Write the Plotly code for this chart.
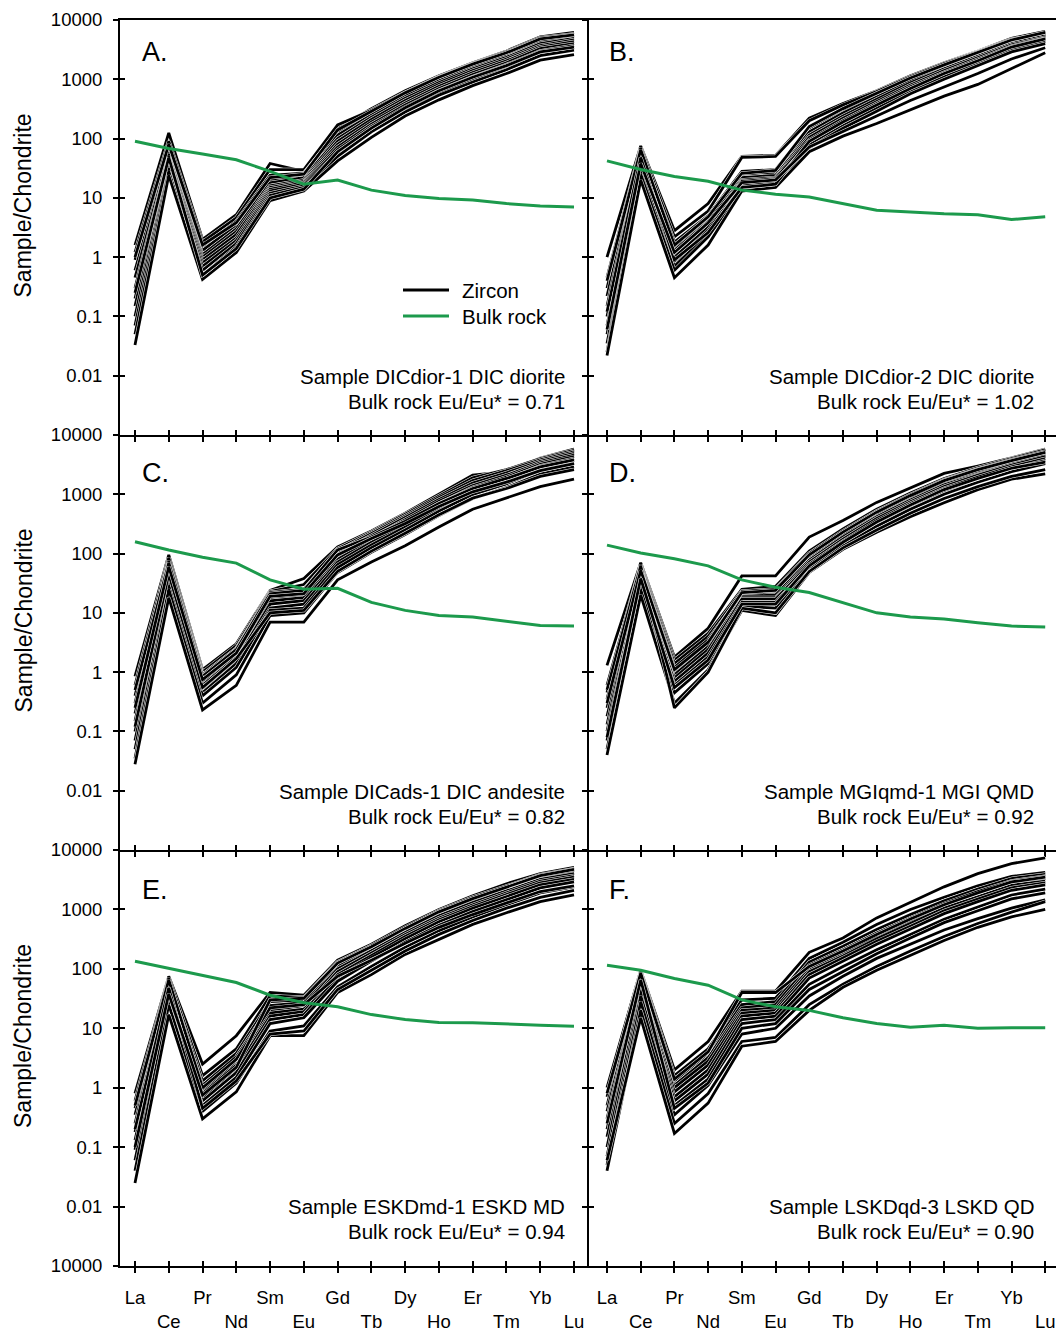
import plotly.graph_objects as go

# ---------------- data ----------------
elements = ["La", "Ce", "Pr", "Nd", "Sm", "Eu", "Gd", "Tb", "Dy", "Ho", "Er", "Tm", "Yb", "Lu"]
y_tick_vals = [0.001, 0.01, 0.1, 1, 10, 100, 1000, 10000]
y_tick_text = ["10000", "0.01", "0.1", "1", "10", "100", "1000", "10000"]

zircon_A = [
    [1.6, 125, 2.0, 5.2, 38, 28, 150, 320, 640, 1150, 1900, 3000, 5200, 6200],
    [1.2, 90, 1.8, 4.6, 30, 30, 170, 300, 600, 1100, 1850, 2900, 5000, 5800],
    [0.9, 70, 1.5, 4.0, 24, 26, 130, 270, 560, 1000, 1700, 2700, 4600, 5500],
    [0.6, 60, 1.3, 3.5, 20, 24, 115, 250, 520, 950, 1600, 2500, 4300, 5200],
    [0.45, 55, 1.1, 3.0, 18, 22, 100, 230, 480, 880, 1500, 2350, 4000, 4900],
    [0.3, 50, 1.0, 2.7, 16, 20, 90, 210, 440, 820, 1400, 2200, 3700, 4600],
    [0.2, 45, 0.9, 2.4, 15, 19, 80, 190, 400, 760, 1300, 2050, 3500, 4300],
    [0.15, 40, 0.8, 2.1, 14, 18, 72, 175, 370, 700, 1200, 1900, 3300, 4000],
    [0.1, 35, 0.7, 1.9, 13, 17, 65, 160, 340, 650, 1100, 1750, 3000, 3700],
    [0.07, 32, 0.6, 1.7, 12, 16, 58, 145, 310, 600, 1000, 1600, 2800, 3400],
    [0.05, 28, 0.5, 1.5, 11, 15, 50, 130, 280, 540, 900, 1450, 2500, 3100],
    [0.033, 24, 0.42, 1.2, 9, 13, 42, 105, 240, 450, 780, 1250, 2100, 2600],
    [1.0, 80, 1.6, 3.8, 22, 25, 140, 290, 590, 1080, 1800, 2800, 4800, 5600],
    [0.25, 48, 0.5, 1.4, 10, 14, 60, 150, 330, 640, 1080, 1700, 2900, 3500],
]
bulk_A = [90, 68, 55, 44, 28, 17, 20, 13.5, 11, 9.8, 9.2, 8, 7.3, 7]

zircon_B = [
    [1.0, 75, 2.8, 8, 50, 52, 220, 390, 640, 1150, 1900, 3000, 4900, 6400],
    [0.45, 70, 2.2, 6, 48, 50, 200, 370, 620, 1100, 1850, 2900, 4700, 6000],
    [0.3, 60, 1.8, 5, 28, 30, 150, 300, 540, 1000, 1700, 2700, 4400, 5800],
    [0.22, 55, 1.5, 4.5, 25, 27, 130, 270, 500, 930, 1600, 2600, 4200, 5600],
    [0.15, 50, 1.3, 4, 22, 24, 115, 240, 460, 870, 1500, 2450, 4000, 5400],
    [0.1, 45, 1.1, 3.5, 20, 22, 105, 220, 420, 800, 1400, 2300, 3800, 5100],
    [0.07, 40, 1.0, 3.2, 19, 21, 95, 200, 390, 750, 1300, 2150, 3600, 4900],
    [0.05, 35, 0.85, 2.8, 17, 19, 85, 180, 350, 690, 1200, 2000, 3400, 4600],
    [0.035, 30, 0.7, 2.5, 16, 18, 78, 165, 320, 630, 1100, 1850, 3200, 4300],
    [0.025, 25, 0.6, 2.2, 14, 16, 70, 150, 290, 570, 1000, 1700, 2900, 4000],
    [0.022, 20, 0.45, 1.6, 13, 15, 60, 110, 180, 310, 520, 820, 1500, 2800],
    [0.4, 65, 1.6, 4.8, 26, 29, 160, 320, 580, 1050, 1750, 2800, 4600, 6200],
    [0.12, 48, 0.9, 2.6, 15, 17, 90, 190, 370, 700, 1250, 2050, 3500, 4800],
    [0.06, 38, 1.2, 3.8, 18, 20, 72, 130, 240, 440, 750, 1250, 2200, 3400],
]
bulk_B = [42, 30, 23, 19, 13.5, 11.5, 10.3, 8, 6.2, 5.8, 5.4, 5.2, 4.3, 4.8]

zircon_C = [
    [0.85, 95, 1.1, 3.0, 24, 38, 130, 240, 480, 1000, 2100, 2400, 4100, 5800],
    [0.6, 85, 1.0, 2.8, 23, 30, 120, 230, 460, 950, 1900, 2600, 4000, 5500],
    [0.4, 75, 0.9, 2.5, 22, 25, 110, 215, 430, 880, 1700, 2500, 3800, 5200],
    [0.3, 65, 0.8, 2.2, 20, 22, 100, 200, 400, 820, 1550, 2300, 3600, 4900],
    [0.2, 55, 0.7, 2.0, 18, 20, 90, 185, 370, 760, 1400, 2100, 3400, 4600],
    [0.15, 48, 0.6, 1.8, 16, 18, 80, 170, 340, 700, 1300, 1950, 3200, 4300],
    [0.1, 40, 0.5, 1.6, 14, 16, 72, 155, 310, 640, 1200, 1800, 3000, 4000],
    [0.07, 35, 0.45, 1.4, 12, 14, 65, 140, 280, 580, 1100, 1650, 2800, 3700],
    [0.05, 30, 0.4, 1.2, 11, 12, 58, 125, 250, 520, 1000, 1500, 2550, 3400],
    [0.035, 25, 0.3, 0.9, 9, 10, 48, 105, 210, 440, 850, 1300, 2200, 2900],
    [0.028, 18, 0.23, 0.6, 7, 7, 36, 72, 135, 280, 560, 880, 1350, 1800],
    [0.5, 70, 0.85, 2.4, 21, 24, 115, 190, 350, 700, 1250, 1850, 2900, 3800],
    [0.12, 45, 0.55, 1.7, 10, 11, 50, 110, 220, 450, 860, 1250, 2000, 2600],
    [0.25, 60, 0.75, 2.1, 19, 21, 95, 180, 320, 620, 1100, 1600, 2500, 3300],
]
bulk_C = [158, 115, 87, 69, 36, 25, 26, 15, 11, 9, 8.5, 7.1, 6.1, 6]

zircon_D = [
    [1.3, 70, 1.8, 5.5, 42, 42, 190, 360, 730, 1280, 2250, 3000, 4100, 5800],
    [0.6, 65, 1.6, 4.5, 25, 28, 110, 260, 560, 1050, 1850, 2800, 4000, 5600],
    [0.45, 60, 1.4, 4.0, 23, 25, 100, 240, 520, 980, 1750, 2650, 3800, 5300],
    [0.35, 55, 1.2, 3.5, 21, 23, 92, 220, 480, 920, 1650, 2500, 3600, 5000],
    [0.25, 50, 1.0, 3.0, 20, 21, 85, 205, 450, 860, 1550, 2350, 3400, 4700],
    [0.18, 45, 0.9, 2.7, 19, 20, 78, 190, 420, 800, 1450, 2200, 3250, 4500],
    [0.13, 40, 0.8, 2.4, 18, 18, 72, 175, 390, 750, 1350, 2100, 3100, 4300],
    [0.1, 35, 0.7, 2.1, 17, 17, 66, 160, 360, 700, 1250, 1950, 2900, 4000],
    [0.07, 30, 0.6, 1.8, 15, 15, 60, 150, 330, 640, 1150, 1800, 2700, 3700],
    [0.05, 25, 0.45, 1.4, 13, 12, 55, 135, 290, 560, 1000, 1600, 2400, 3300],
    [0.04, 20, 0.3, 1.1, 11, 9, 48, 118, 230, 420, 720, 1200, 1800, 2200],
    [0.5, 62, 0.25, 1.0, 12, 10, 50, 125, 250, 480, 850, 1350, 2000, 2600],
    [0.3, 52, 1.1, 3.2, 22, 24, 95, 230, 500, 950, 1700, 2600, 3700, 5100],
    [0.08, 38, 0.55, 1.6, 14, 14, 62, 155, 340, 660, 1200, 1850, 2750, 3500],
]
bulk_D = [139, 102, 82, 62, 36, 27, 22, 15, 10, 8.5, 7.9, 6.8, 6.0, 5.8]

zircon_E = [
    [0.8, 75, 2.5, 7.5, 40, 36, 140, 260, 530, 1000, 1700, 2700, 4000, 5100],
    [0.6, 70, 1.6, 4.5, 35, 33, 130, 245, 500, 950, 1600, 2500, 3800, 4800],
    [0.45, 60, 1.3, 3.8, 28, 30, 120, 230, 470, 900, 1500, 2350, 3600, 4500],
    [0.35, 55, 1.1, 3.3, 24, 27, 110, 215, 440, 840, 1400, 2200, 3400, 4200],
    [0.25, 50, 0.9, 2.8, 20, 24, 100, 200, 410, 780, 1300, 2050, 3200, 4000],
    [0.18, 45, 0.8, 2.4, 18, 21, 90, 185, 380, 720, 1200, 1900, 3000, 3700],
    [0.13, 40, 0.7, 2.1, 16, 19, 80, 170, 350, 670, 1120, 1780, 2800, 3500],
    [0.09, 35, 0.6, 1.8, 14, 17, 72, 155, 320, 620, 1040, 1650, 2600, 3200],
    [0.06, 30, 0.5, 1.5, 12, 15, 62, 135, 280, 540, 920, 1450, 2300, 2900],
    [0.04, 25, 0.4, 1.2, 9, 11, 50, 110, 230, 440, 750, 1200, 1900, 2400],
    [0.025, 17, 0.3, 0.85, 7.5, 7.5, 40, 80, 175, 310, 560, 880, 1350, 1750],
    [0.5, 65, 1.0, 3.0, 22, 25, 75, 140, 270, 500, 820, 1300, 2000, 2500],
    [0.2, 48, 0.45, 1.3, 8, 9, 45, 95, 200, 380, 650, 1050, 1600, 2100],
    [0.1, 38, 0.75, 2.2, 30, 32, 125, 235, 480, 910, 1520, 2400, 3700, 4700],
]
bulk_E = [134, 102, 78, 59, 36, 27, 23, 17, 14, 12.5, 12.4, 12, 11.3, 10.8]

zircon_F = [
    [1.0, 95, 2.0, 6.0, 42, 42, 190, 330, 720, 1300, 2400, 4000, 5900, 7400],
    [0.7, 90, 1.6, 4.5, 30, 32, 150, 280, 560, 1000, 1600, 2500, 3600, 4200],
    [0.5, 80, 1.3, 3.8, 25, 28, 130, 240, 460, 820, 1400, 2200, 3300, 3900],
    [0.4, 75, 1.1, 3.2, 22, 25, 115, 210, 400, 720, 1250, 2000, 3000, 3600],
    [0.3, 70, 1.0, 2.8, 20, 22, 100, 185, 360, 650, 1150, 1800, 2800, 3300],
    [0.2, 60, 0.85, 2.4, 18, 20, 90, 165, 320, 580, 1050, 1650, 2550, 3000],
    [0.15, 55, 0.7, 2.0, 16, 18, 80, 150, 290, 520, 950, 1500, 2300, 2800],
    [0.1, 45, 0.6, 1.7, 14, 16, 70, 135, 260, 470, 850, 1350, 2100, 2600],
    [0.07, 35, 0.5, 1.4, 12, 14, 55, 110, 210, 380, 680, 1100, 1750, 2200],
    [0.05, 28, 0.35, 1.1, 8, 10, 35, 75, 150, 260, 450, 700, 1050, 1450],
    [0.04, 20, 0.25, 0.8, 6, 7, 25, 55, 110, 200, 350, 580, 900, 1350],
    [0.06, 15, 0.17, 0.55, 5, 6, 20, 49, 95, 170, 300, 500, 750, 1000],
    [0.8, 85, 1.4, 4.0, 40, 40, 110, 200, 380, 690, 1200, 1900, 2900, 3500],
    [0.25, 65, 0.45, 1.2, 10, 12, 45, 90, 180, 330, 600, 950, 1500, 1900],
]
bulk_F = [115, 95, 69, 53, 30, 23, 20, 15, 12, 10.4, 11.2, 10, 10.2, 10.2]

panel_letters = ["A.", "B.", "C.", "D.", "E.", "F."]
sample_names = [
    "Sample DICdior-1 DIC diorite",
    "Sample DICdior-2 DIC diorite",
    "Sample DICads-1 DIC andesite",
    "Sample MGIqmd-1 MGI QMD",
    "Sample ESKDmd-1 ESKD MD",
    "Sample LSKDqd-3 LSKD QD",
]
eu_ratios = ["0.71", "1.02", "0.82", "0.92", "0.94", "0.90"]
zircon_sets = [zircon_A, zircon_B, zircon_C, zircon_D, zircon_E, zircon_F]
bulk_sets = [bulk_A, bulk_B, bulk_C, bulk_D, bulk_E, bulk_F]

# ---------------- layout geometry ----------------
W, H = 1056, 1331
ML, MR, MT, MB = 120, 0, 20, 65
PW, PH = W - ML - MR, H - MT - MB
FONT = "Liberation Sans, Arial, sans-serif"
GREEN = "#1c9a4c"
AXW = 2


def px_x(px):
    return (px - ML) / PW


def px_y(py):
    return (H - MB - py) / PH


col_dom = [[0, px_x(589)], [px_x(589), 1.0]]
row_tops = [20, 435, 850]
row_bots = [435, 850, 1266]
row_dom = [[px_y(b), px_y(t)] for t, b in zip(row_tops, row_bots)]
x_ranges = [[-0.444, 13.444], [-0.534, 13.32]]
x_idx = list(range(len(elements)))
x_ticktext = [e if i % 2 == 0 else "<br>" + e for i, e in enumerate(elements)]

fig = go.Figure()
annotations = []
shapes = []

for k in range(6):
    row, col = k // 2, k % 2
    n = k + 1
    xa = "x" if n == 1 else f"x{n}"
    ya = "y" if n == 1 else f"y{n}"
    for line in zircon_sets[k]:
        fig.add_trace(go.Scatter(x=x_idx, y=line, mode="lines", xaxis=xa, yaxis=ya,
                                 line=dict(color="white", width=3.8), showlegend=False,
                                 hoverinfo="skip"))
        fig.add_trace(go.Scatter(x=x_idx, y=line, mode="lines", xaxis=xa, yaxis=ya,
                                 line=dict(color="black", width=2.8), showlegend=False))
    fig.add_trace(go.Scatter(x=x_idx, y=bulk_sets[k], mode="lines", xaxis=xa, yaxis=ya,
                             line=dict(color=GREEN, width=3), showlegend=False))

    xkey = "xaxis" if n == 1 else f"xaxis{n}"
    ykey = "yaxis" if n == 1 else f"yaxis{n}"
    fig.layout[xkey] = dict(
        domain=col_dom[col], range=x_ranges[col], anchor=ya,
        tickmode="array", tickvals=x_idx, ticktext=x_ticktext,
        showticklabels=(row == 2), ticks="outside", ticklen=5, tickwidth=2,
        tickcolor="black", showline=True, linewidth=AXW, linecolor="black",
        mirror=(row == 0), showgrid=False, zeroline=False, ticklabelstandoff=9,
        tickfont=dict(size=18.5, color="black", family=FONT),
    )
    if col == 0 and row == 2:
        tv, tt = y_tick_vals, y_tick_text
    else:
        tv, tt = y_tick_vals[1:], y_tick_text[1:]
    fig.layout[ykey] = dict(
        domain=row_dom[row], type="log", range=[-3, 4], anchor=xa,
        tickmode="array", tickvals=tv, ticktext=tt,
        showticklabels=(col == 0), ticks="outside", ticklen=5, tickwidth=2,
        tickcolor="black", showline=True, linewidth=AXW, linecolor="black",
        mirror=False, showgrid=False, zeroline=False, ticklabelstandoff=7,
        tickfont=dict(size=18.5, color="black", family=FONT),
    )

    # overlay axes giving the inward half of the crossing tick marks
    m = n + 6
    fig.layout[f"xaxis{m}"] = dict(
        overlaying=xa, anchor=ya, side="bottom", range=x_ranges[col],
        tickmode="array", tickvals=x_idx, ticks="inside", ticklen=5, tickwidth=2,
        tickcolor="black", showticklabels=False, showline=False, showgrid=False,
        zeroline=False,
    )
    fig.layout[f"yaxis{m}"] = dict(
        overlaying=ya, anchor=xa, side="left", type="log", range=[-3, 4],
        tickmode="array", tickvals=y_tick_vals[1:], ticks="inside", ticklen=5,
        tickwidth=2, tickcolor="black", showticklabels=False, showline=False,
        showgrid=False, zeroline=False,
    )
    fig.add_trace(go.Scatter(x=[0], y=[1], mode="markers", xaxis=f"x{m}", yaxis=f"y{m}",
                             marker=dict(opacity=0), showlegend=False, hoverinfo="skip"))

    top = row_tops[row]
    left_px = 140 if col == 0 else 607
    right_px = 567 if col == 0 else 1036
    letter_y = [52, 473, 890][row]
    annotations.append(dict(text=panel_letters[k], x=px_x(left_px), y=px_y(letter_y),
                            xref="paper", yref="paper", xanchor="left", yanchor="middle",
                            showarrow=False, font=dict(size=27, color="black", family=FONT)))
    annotations.append(dict(text=sample_names[k], x=px_x(right_px), y=px_y(top + 356),
                            xref="paper", yref="paper", xanchor="right", yanchor="middle",
                            showarrow=False, font=dict(size=20.5, color="black", family=FONT)))
    annotations.append(dict(text="Bulk rock Eu/Eu* = " + eu_ratios[k], x=px_x(right_px),
                            y=px_y(top + 381), xref="paper", yref="paper", xanchor="right",
                            yanchor="middle", showarrow=False,
                            font=dict(size=20.5, color="black", family=FONT)))
    if col == 0:
        mid = (row_tops[row] + row_bots[row]) / 2 - 22
        annotations.append(dict(text="Sample/Chondrite", x=px_x(23), y=px_y(mid),
                                xref="paper", yref="paper", xanchor="center",
                                yanchor="middle", textangle=-90, showarrow=False,
                                font=dict(size=23, color="black", family=FONT)))

# legend (panel A)
legend_items = [("Zircon", "black", 290), ("Bulk rock", GREEN, 316)]
for label, color, py in legend_items:
    shapes.append(dict(type="line", xref="paper", yref="paper",
                       x0=px_x(403), x1=px_x(449), y0=px_y(py), y1=px_y(py),
                       line=dict(color=color, width=3)))
    annotations.append(dict(text=label, x=px_x(460), y=px_y(py), xref="paper", yref="paper",
                            xanchor="left", yanchor="middle", showarrow=False,
                            font=dict(size=20.5, color="black", family=FONT)))

fig.update_layout(
    width=W, height=H, margin=dict(l=ML, r=MR, t=MT, b=MB),
    paper_bgcolor="white", plot_bgcolor="white", showlegend=False,
    annotations=annotations, shapes=shapes,
)

fig.write_html("out.html", config={"displayModeBar": False})
